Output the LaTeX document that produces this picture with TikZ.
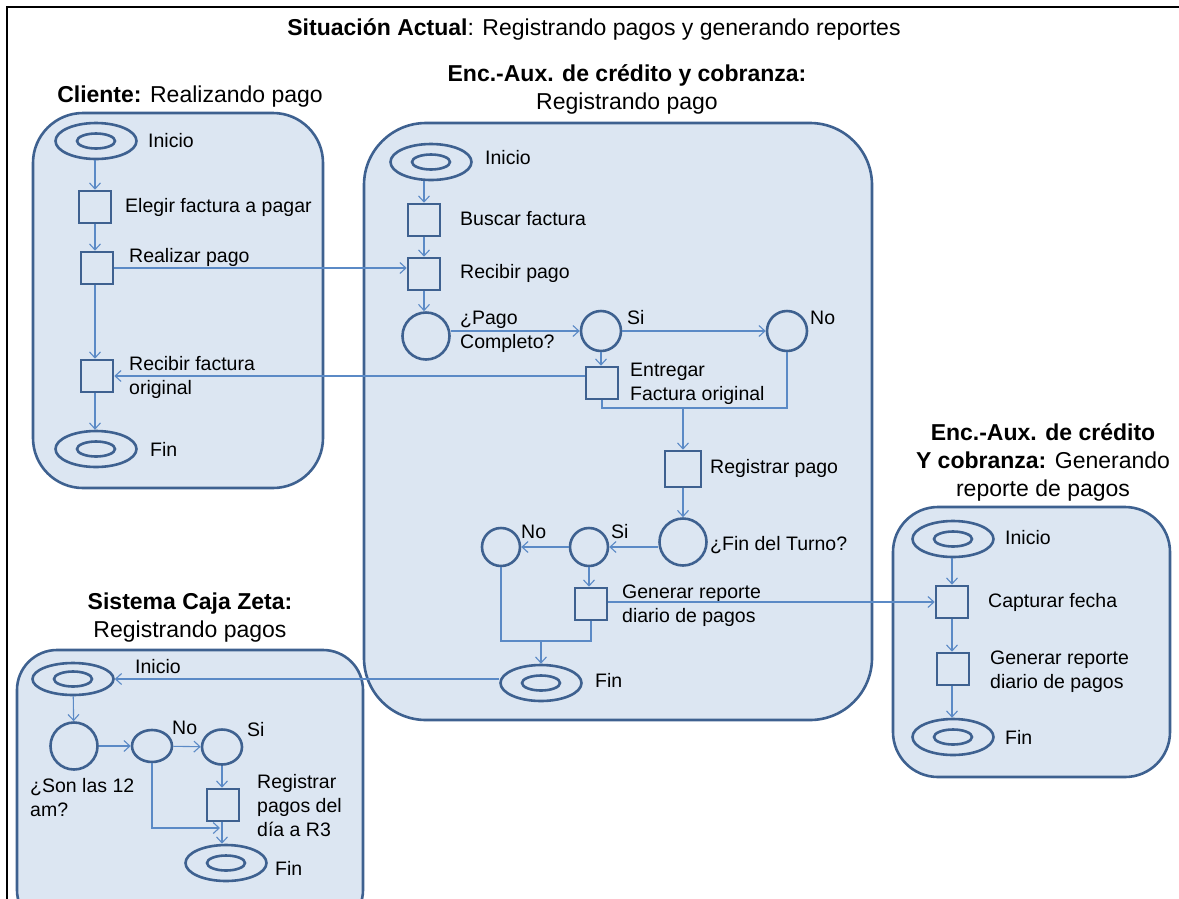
\documentclass[tikz,border=0pt]{standalone}
\usepackage{fontspec}
\setmainfont{Liberation Sans}
\usetikzlibrary{shapes.geometric,arrows.meta}
\definecolor{bg}{HTML}{DCE6F2}
\definecolor{shp}{HTML}{3E6190}
\definecolor{cn}{HTML}{5B8AC6}

\begin{document}
\begin{tikzpicture}[x=1pt, y=-1pt,
		box/.style={draw=shp, fill=bg, line width=2.6pt},
		act/.style={rectangle, draw=shp, fill=bg, line width=2.6pt, minimum size=32pt, inner sep=0pt},
		dec/.style={circle, draw=shp, fill=bg, line width=2.6pt, minimum size=47pt, inner sep=0pt},
		term/.style={ellipse, draw=shp, fill=bg, line width=2.6pt, minimum width=81pt, minimum height=36pt, inner sep=0pt,
			path picture={\draw[shp, line width=2.6pt] (path picture bounding box.center) ellipse (19pt and 7.5pt);}},
		conn/.style={draw=cn, line width=1.1pt, -{Straight Barb[length=6pt, width=11pt]}},
		line/.style={draw=cn, line width=1.1pt},
		lbl/.style={anchor=west, align=left, inner sep=0pt, font=\fontsize{19.5}{24}\selectfont},
		ttl/.style={align=center, inner sep=0pt, font=\fontsize{23}{28}\selectfont}]
		\useasboundingbox (0,0) rectangle (1179,898);
		\clip (0,0) rectangle (1179,898);
		\draw[line width=2.5pt] (7,900) -- (7,7) -- (1180,7);
		
		\node[ttl] (main) at (594,29) {\textbf{Situación Actual}: Registrando pagos y generando reportes};
		
		\draw[box, rounded corners=50pt] (33,113) rectangle (323,488);
		\draw[box, rounded corners=62pt] (364,123) rectangle (872,720);
		\draw[box, rounded corners=45pt] (893,507) rectangle (1170,777);
		\draw[box, rounded corners=40pt] (17,650) rectangle (363,930);
		
		\node[ttl] (cT) at (190,97) {\textbf{Cliente:} Realizando pago};
		\node[term] (cIni) at (96,141) {};
		\node[act] (cEle) at (95,207) {};
		\node[act] (cRea) at (97,268) {};
		\node[act] (cRec) at (97,376) {};
		\node[term] (cFin) at (96,449) {};
		\node[lbl] (cIniL) at (148,141) {Inicio};
		\node[lbl] (cEleL) at (125,207) {Elegir factura a pagar};
		\node[lbl] (cReaL) at (129,257) {Realizar pago};
		\node[lbl] (cRecL) at (129,377) {Recibir factura\\original};
		\node[lbl] (cFinL) at (150,449) {Fin};
		
		\node[ttl] (eT) at (627,89) {\textbf{Enc.-Aux. de crédito y cobranza:}\\Registrando pago};
		\node[term] (eIni) at (431,162) {};
		\node[act] (eBus) at (424,220) {};
		\node[act] (eRec) at (424,274) {};
		\node[dec] (ePag) at (426,336) {};
		\node[dec, minimum size=40pt] (eSi) at (601,331) {};
		\node[dec, minimum size=40pt] (eNo) at (787,331) {};
		\node[act] (eEnt) at (602,383) {};
		\coordinate (eMrg) at (683,408);
		\node[act, minimum size=36pt] (eReg) at (683,469) {};
		\node[dec] (eTur) at (683,542) {};
		\node[dec, minimum size=38pt] (eSi2) at (589,547) {};
		\node[dec, minimum size=38pt] (eNo2) at (501,547) {};
		\node[act] (eGen) at (591,604) {};
		\coordinate (eMrg2) at (541,641);
		\node[term] (eFin) at (541,683) {};
		\node[lbl] (eIniL) at (485,158) {Inicio};
		\node[lbl] (eBusL) at (460,219) {Buscar factura};
		\node[lbl] (eRecL) at (460,273) {Recibir pago};
		\node[lbl] (ePagL) at (460,332) {¿Pago\\Completo?};
		\node[lbl] (eSiL) at (627,318) {Si};
		\node[lbl] (eNoL) at (810,318) {No};
		\node[lbl] (eEntL) at (630,384) {Entregar\\Factura original};
		\node[lbl] (eRegL) at (710,468) {Registrar pago};
		\node[lbl] (eTurL) at (710,545) {¿Fin del Turno?};
		\node[lbl] (eSi2L) at (611,532) {Si};
		\node[lbl] (eNo2L) at (521,532) {No};
		\node[lbl] (eGenL) at (622,606) {Generar reporte\\diario de pagos};
		\node[lbl] (eFinL) at (595,680) {Fin};
		
		\node[ttl] (rT) at (1043,462) {\textbf{Enc.-Aux. de crédito}\\\textbf{Y cobranza:} Generando\\reporte de pagos};
		\node[term] (rIni) at (953,539) {};
		\node[act] (rCap) at (952,602) {};
		\node[act] (rGen) at (953,669) {};
		\node[term] (rFin) at (953,737) {};
		\node[lbl] (rIniL) at (1005,538) {Inicio};
		\node[lbl] (rCapL) at (988,602) {Capturar fecha};
		\node[lbl] (rGenL) at (990,672) {Generar reporte\\diario de pagos};
		\node[lbl] (rFinL) at (1005,737) {Fin};
		
		\node[ttl] (zT) at (190,618) {\textbf{Sistema Caja Zeta:}\\Registrando pagos};
		\node[term, minimum height=32pt] (zIni) at (73,679) {};
		\node[dec] (zSon) at (74,746) {};
		\node[ellipse, draw=shp, fill=bg, line width=2.6pt, minimum width=40pt, minimum height=32pt] (zNo) at (152,746) {};
		\node[ellipse, draw=shp, fill=bg, line width=2.6pt, minimum width=40pt, minimum height=35pt] (zSi) at (222,747) {};
		\node[act] (zReg) at (223,805) {};
		\node[term] (zFin) at (226,863) {};
		\coordinate (zJoin) at (220,828);
		\node[lbl] (zIniL) at (135,667) {Inicio};
		\node[lbl] (zSonL) at (30,798) {¿Son las 12\\am?};
		\node[lbl] (zNoL) at (172,728) {No};
		\node[lbl] (zSiL) at (247,730) {Si};
		\node[lbl] (zRegL) at (257,806) {Registrar\\pagos del\\día a R3};
		\node[lbl] (zFinL) at (275,868) {Fin};
		
		\draw[conn] (cIni.south -| cEle) -- (cEle);
		\draw[conn] (cEle) -- (cEle |- cRea.north);
		\draw[conn] (cRea.south -| cEle) -- (cRec.north -| cEle);
		\draw[conn] (cRec.south -| cEle) -- (cFin.north -| cEle);
		\draw[conn] (cRea.east) -- (cRea.east -| eRec.west);
		\draw[conn] (eEnt.west |- cRec) -- (cRec.east);
		
		\draw[conn] (eIni.south -| eBus) -- (eBus);
		\draw[conn] (eBus) -- (eRec);
		\draw[conn] (eRec) -- (eRec |- ePag.north);
		\draw[conn] (ePag.east |- eSi) -- (eSi);
		\draw[conn] (eSi) -- (eNo);
		\draw[conn] (eSi) -- (eSi |- eEnt.north);
		\draw[line] (eEnt.south) -- (eEnt |- eMrg) -- (eNo |- eMrg) -- (eNo.south);
		\draw[conn] (eMrg) -- (eReg);
		\draw[conn] (eReg) -- (eTur);
		\draw[conn] (eTur.west |- eSi2) -- (eSi2);
		\draw[conn] (eSi2) -- (eNo2);
		\draw[conn] (eSi2) -- (eSi2 |- eGen.north);
		\draw[line] (eNo2.south) -- (eNo2 |- eMrg2) -- (eGen |- eMrg2) -- (eGen.south);
		\draw[conn] (eMrg2) -- (eFin);
		\draw[conn] (eGen.east |- rCap) -- (rCap);
		\draw[conn] (eFin.west |- zIni) -- (zIni);
		
		\draw[conn] (rIni.south -| rCap) -- (rCap);
		\draw[conn] (rCap) -- (rCap |- rGen.north);
		\draw[conn] (rGen.south -| rCap) -- (rFin.north -| rCap);
		
		\draw[conn] (zIni) -- (zSon);
		\draw[conn] (zSon) -- (zNo);
		\draw[conn] (zNo) -- (zSi);
		\draw[conn] (zSi) -- (zSi |- zReg.north);
		\draw[conn] (zReg.south -| zSi) -- (zFin.north -| zSi);
		\draw[conn] (zNo.south) |- (zJoin);
	\end{tikzpicture}
\end{document}
